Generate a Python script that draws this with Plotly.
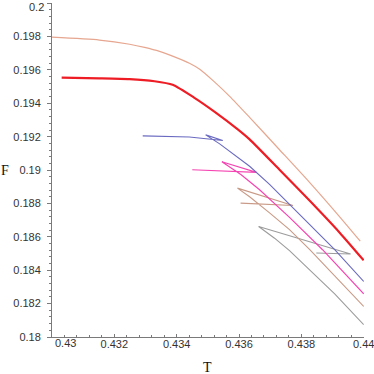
import plotly.graph_objects as go

# temperature / free energy branches
T_peach = [0.4300, 0.43152, 0.43249, 0.43297, 0.43345, 0.43393, 0.43441, 0.43474,
           0.43522, 0.43570, 0.43634, 0.43730, 0.43827, 0.43923, 0.43989]
F_peach = [0.19796, 0.19779, 0.19754, 0.19735, 0.19711, 0.19678, 0.19640, 0.19604,
           0.19527, 0.19442, 0.19316, 0.19122, 0.18925, 0.18720, 0.18574]

T_red = [0.43031, 0.43152, 0.43249, 0.43329, 0.43387, 0.43457, 0.43522, 0.43596,
         0.43634, 0.43730, 0.43827, 0.43923, 0.44000]
F_red = [0.19554, 0.19550, 0.19545, 0.19532, 0.19511, 0.19433, 0.19349, 0.19244,
         0.19184, 0.19002, 0.18816, 0.18625, 0.18459]

T_blue = [0.43291, 0.43441, 0.43548, 0.43493, 0.43538, 0.43586, 0.43634, 0.43698,
          0.43762, 0.43827, 0.43907, 0.44000]
F_blue = [0.19205, 0.19198, 0.19177, 0.19211, 0.19157, 0.19092, 0.19023, 0.18914,
          0.18795, 0.18672, 0.18523, 0.18333]

T_pink = [0.43450, 0.43554, 0.43656, 0.43545, 0.43607, 0.43666, 0.43762, 0.43868, 0.44000]
F_pink = [0.19002, 0.18995, 0.18986, 0.19050, 0.18972, 0.18882, 0.18717, 0.18523, 0.18259]

T_tan = [0.43605, 0.43773, 0.43595, 0.43634, 0.43698, 0.43762, 0.43827, 0.43907, 0.44000]
F_tan = [0.18802, 0.18788, 0.18892, 0.18840, 0.18744, 0.18643, 0.18523, 0.18367, 0.18183]

T_gray = [0.43848, 0.43958, 0.43663, 0.43714, 0.43762, 0.43827, 0.43907, 0.44000]
F_gray = [0.18503, 0.18497, 0.18662, 0.18592, 0.18517, 0.18403, 0.18259, 0.18074]

x_ticks = [0.43, 0.432, 0.434, 0.436, 0.438, 0.44]
x_labels = ["", "0.432", "0.434", "0.436", "0.438", "0.44"]
y_ticks = [0.18, 0.182, 0.184, 0.186, 0.188, 0.19, 0.192, 0.194, 0.196, 0.198, 0.2]
y_labels = ["0.18", "0.182", "0.184", "0.186", "0.188", "0.19", "0.192", "0.194",
            "0.196", "0.198", ""]

series = [
    (T_peach, F_peach, "#E6A68F", 1.2, "spline"),
    (T_gray, F_gray, "#9C9C9C", 1.1, "linear"),
    (T_tan, F_tan, "#C99A86", 1.1, "linear"),
    (T_pink, F_pink, "#F545B2", 1.2, "linear"),
    (T_blue, F_blue, "#6A6AC0", 1.1, "linear"),
    (T_red, F_red, "#EE1D25", 2.2, "spline"),
]

fig = go.Figure()
for t, f, c, w, sh in series:
    fig.add_trace(go.Scatter(x=t, y=f, mode="lines",
                             line=dict(color=c, width=w, shape=sh, smoothing=0.6),
                             hoverinfo="skip", cliponaxis=False))

axis_font = dict(family="Liberation Sans, Arial, sans-serif", size=11, color="#333")
fig.update_xaxes(range=[0.43, 0.44001], tickvals=x_ticks, ticktext=x_labels,
                 showgrid=False, zeroline=False, showline=True, linecolor="#7a7a7a",
                 linewidth=1, ticks="inside", ticklen=3, tickcolor="#7a7a7a",
                 minor=dict(dtick=0.0004, ticks="inside", ticklen=2, tickcolor="#7a7a7a"),
                 tickfont=axis_font, ticklabelstandoff=-3, automargin=False,
                 ticklabeloverflow="allow")
fig.update_yaxes(range=[0.18, 0.20001], tickvals=y_ticks, ticktext=y_labels,
                 showgrid=False, zeroline=False, showline=True, linecolor="#7a7a7a",
                 linewidth=1, ticks="outside", ticklen=4, tickcolor="#7a7a7a",
                 minor=dict(dtick=0.0004, ticks="outside", ticklen=2, tickcolor="#7a7a7a"),
                 tickfont=axis_font, ticklabelstandoff=4, automargin=False,
                 ticklabeloverflow="allow")

fig.add_annotation(x=0.43, y=0, xref="x", yref="paper", text="0.43", showarrow=False,
                   xanchor="left", yanchor="top", xshift=1, yshift=2, font=axis_font)
fig.add_annotation(x=0, y=0.2, xref="paper", yref="y", text="0.2", showarrow=False,
                   xanchor="right", yanchor="top", xshift=-6, yshift=4, font=axis_font)
fig.add_annotation(x=0.435, y=0, xref="x", yref="paper", text="T", showarrow=False,
                   yanchor="top", yshift=-21,
                   font=dict(family="Liberation Serif, Times New Roman, serif", size=14, color="#111"))
fig.add_annotation(x=0, y=0.19, xref="paper", yref="y", text="F", showarrow=False,
                   xanchor="center", xshift=-47,
                   font=dict(family="Liberation Serif, Times New Roman, serif", size=14, color="#111"))

fig.update_layout(width=374, height=374, showlegend=False,
                  margin=dict(l=52, r=10, t=3, b=37),
                  plot_bgcolor="white", paper_bgcolor="white")
fig.write_html("out.html", config={"displayModeBar": False},
               post_script="document.body.style.margin='0';")
